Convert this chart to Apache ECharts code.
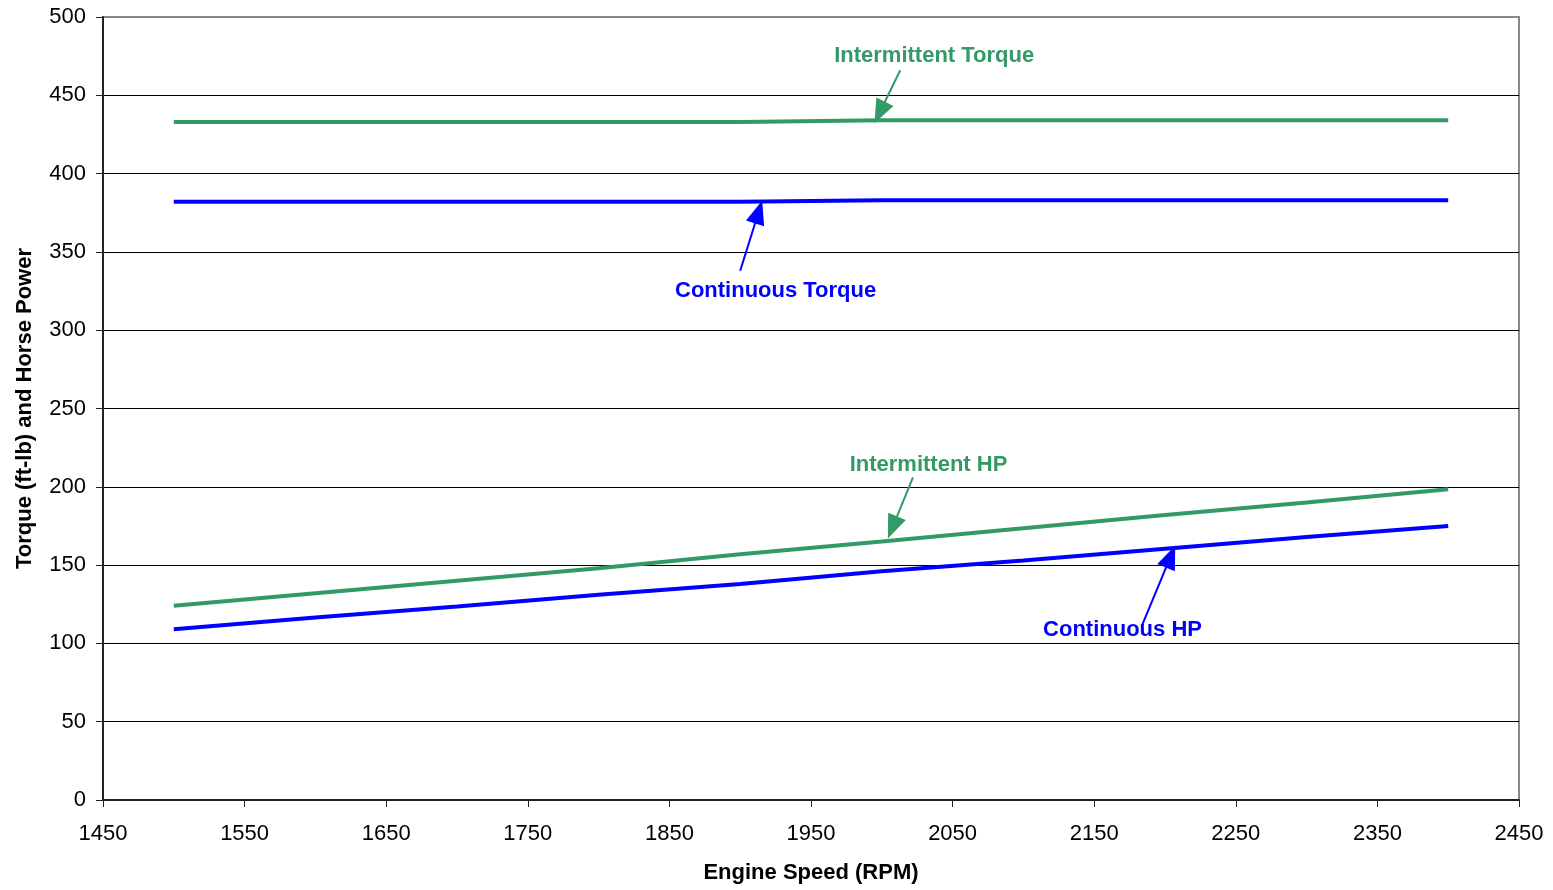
<!DOCTYPE html>
<html>
<head>
<meta charset="utf-8">
<script src="https://cdn.jsdelivr.net/npm/echarts@6/dist/echarts.min.js"></script>
<style>html,body{margin:0;padding:0;background:#fff}#c{width:1553px;height:890px}</style>
</head>
<body>
<div id="c"></div>
<script>
var rpm = [1500, 1600, 1700, 1800, 1900, 2000, 2100, 2200, 2300, 2400];
var intermittentTorque = [433, 433, 433, 433, 433, 434, 434, 434, 434, 434];
var continuousTorque = [382, 382, 382, 382, 382, 383, 383, 383, 383, 383];
var intermittentHP = [124, 132, 140, 148, 157, 165, 173.5, 182, 190, 198.5];
var continuousHP = [109, 116.5, 123.5, 131, 138, 146, 153, 160.5, 168, 175];
var xTicks = [1450, 1550, 1650, 1750, 1850, 1950, 2050, 2150, 2250, 2350, 2450];
var yTicks = [0, 50, 100, 150, 200, 250, 300, 350, 400, 450, 500];

// annotations: [label, labelPos, arrowStart, arrowEnd]
var annIT = ['Intermittent Torque', [2037, 475], [2013, 466], [1998.5, 439]];
var annCT = ['Continuous Torque', [1925, 325], [1900, 338], [1913, 375.5]];
var annIH = ['Intermittent HP', [2033, 214], [2022, 206], [2007.5, 174]];
var annCH = ['Continuous HP', [2170, 108.5], [2184, 112], [2204, 155.5]];

var GREEN = '#339966', BLUE = '#0000FF';
var FONT = 'Liberation Sans, Arial, sans-serif';

function zip(xs, ys) { return xs.map(function (x, i) { return [x, ys[i]]; }); }

function mkSeries(name, ys, color, ann) {
  return {
    name: name, type: 'line', data: zip(rpm, ys), showSymbol: false,
    lineStyle: { color: color, width: 4 }, itemStyle: { color: color },
    silent: true, animation: false,
    markLine: {
      silent: true, animation: false,
      symbol: ['none', 'triangle'], symbolSize: [19, 24],
      lineStyle: { color: color, width: 2, type: 'solid' },
      label: { show: false },
      data: [[{ coord: ann[2] }, { coord: ann[3] }]]
    },
    markPoint: {
      silent: true, animation: false,
      symbol: 'circle', symbolSize: 1, itemStyle: { color: 'rgba(0,0,0,0)' },
      label: { show: true, position: 'inside', formatter: ann[0], color: color,
               fontFamily: FONT, fontWeight: 'bold', fontSize: 22 },
      data: [{ coord: ann[1] }]
    }
  };
}

var gridColors = yTicks.map(function (v, i) { return i === yTicks.length - 1 ? '#888' : '#000'; });

var chart = echarts.init(document.getElementById('c'));
chart.setOption({
  animation: false,
  backgroundColor: '#fff',
  grid: { left: 103, right: 34, top: 17, bottom: 90, show: true, borderColor: '#888', borderWidth: 2, backgroundColor: 'transparent' },
  xAxis: {
    type: 'value', min: 1450, max: 2450, interval: 100,
    name: 'Engine Speed (RPM)', nameLocation: 'middle', nameGap: 62,
    nameTextStyle: { fontFamily: FONT, fontWeight: 'bold', fontSize: 22, color: '#000' },
    axisLine: { show: true, onZero: false, lineStyle: { color: '#222', width: 2 } },
    axisTick: { show: true, length: 7, lineStyle: { color: '#222', width: 1 } },
    axisLabel: { fontFamily: FONT, fontSize: 22, color: '#000', margin: 23,
                 formatter: function (v) { return xTicks.indexOf(v) >= 0 ? String(v) : ''; } },
    splitLine: { show: false }
  },
  yAxis: {
    type: 'value', min: 0, max: 500, interval: 50,
    name: 'Torque (ft-lb) and Horse Power', nameLocation: 'middle', nameGap: 67,
    nameTextStyle: { fontFamily: FONT, fontWeight: 'bold', fontSize: 22, color: '#000' },
    axisLine: { show: true, lineStyle: { color: '#222', width: 2 } },
    axisTick: { show: true, length: 7, lineStyle: { color: '#222', width: 1 } },
    axisLabel: { fontFamily: FONT, fontSize: 22, color: '#000', margin: 17,
                 formatter: function (v) { return yTicks.indexOf(v) >= 0 ? String(v) : ''; } },
    splitLine: { show: true, lineStyle: { color: gridColors, width: 1 } }
  },
  series: [
    mkSeries('Intermittent Torque', intermittentTorque, GREEN, annIT),
    mkSeries('Continuous Torque', continuousTorque, BLUE, annCT),
    mkSeries('Intermittent HP', intermittentHP, GREEN, annIH),
    mkSeries('Continuous HP', continuousHP, BLUE, annCH)
  ]
});
</script>
</body>
</html>
